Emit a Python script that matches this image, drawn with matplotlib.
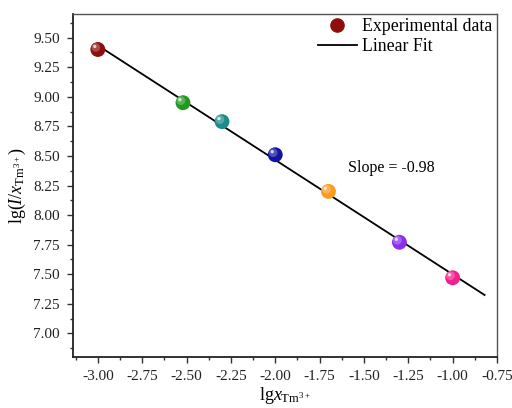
import numpy as np
import matplotlib
matplotlib.use("Agg")
import matplotlib.pyplot as plt
from matplotlib.transforms import ScaledTranslation
from matplotlib.lines import Line2D
from matplotlib.ticker import AutoMinorLocator

plt.rcParams['font.family'] = ['Liberation Serif', 'DejaVu Serif']
plt.rcParams['mathtext.fontset'] = 'custom'
plt.rcParams['mathtext.rm'] = 'Liberation Serif'
plt.rcParams['mathtext.it'] = 'Liberation Serif:italic'

lgx = [-3.00, -2.52, -2.30, -2.00, -1.70, -1.30, -1.00]
lgI = [9.40, 8.95, 8.79, 8.51, 8.20, 7.77, 7.47]
colors = ['#8e0e0e', '#1f9a1f', '#1f8c8c', '#1414a0', '#ff9a1e', '#8a2ff0', '#f2208c']
fit_range = [-3.00, -0.82]
xticks = [-3.00, -2.75, -2.50, -2.25, -2.00, -1.75, -1.50, -1.25, -1.00, -0.75]
yticks = [7.00, 7.25, 7.50, 7.75, 8.00, 8.25, 8.50, 8.75, 9.00, 9.25, 9.50]

fig = plt.figure(figsize=(5.12, 4.08), dpi=100)
ax = fig.add_axes([73/512, 1-357/408, (497-73)/512, (357-14)/408])

slope, intercept = np.polyfit(lgx, lgI, 1)
xf = np.array(fit_range)
ax.plot(xf, slope*xf + intercept, color='black', lw=1.3, zorder=2)

def lighten(c, f):
    rgb = np.array(matplotlib.colors.to_rgb(c))
    return tuple(rgb + (1-rgb)*f)

ax.scatter(lgx, lgI, s=115, c=colors, zorder=3, linewidths=0)
off = ScaledTranslation(-1.5/72, 1.5/72, fig.dpi_scale_trans)
ax.scatter(lgx, lgI, s=40, c=[lighten(c, 0.25) for c in colors], zorder=4,
           linewidths=0, transform=ax.transData + off)
off2 = ScaledTranslation(-2.2/72, 2.2/72, fig.dpi_scale_trans)
ax.scatter(lgx, lgI, s=6, c=[lighten(c, 0.8) for c in colors], zorder=5,
           linewidths=0, transform=ax.transData + off2)

ax.set_xlim(-3.14, -0.75)
ax.set_ylim(6.80, 9.70)
ax.set_xticks(xticks)
ax.set_yticks(yticks)
ax.set_xticklabels([f"{v:.2f}" for v in xticks])
ax.set_yticklabels([f"{v:.2f}" for v in yticks])
ax.xaxis.set_minor_locator(AutoMinorLocator(2))
ax.yaxis.set_minor_locator(AutoMinorLocator(2))
ax.tick_params(which='major', direction='out', length=4.5, width=1, labelsize=11,
               colors='#333333', labelcolor='#222222', pad=5)
ax.tick_params(which='minor', direction='out', length=2.5, width=1, colors='#333333')
for s in ['left', 'bottom']:
    ax.spines[s].set_linewidth(1.3)
    ax.spines[s].set_color('#222222')
for s in ['top', 'right']:
    ax.spines[s].set_linewidth(1.0)
    ax.spines[s].set_color('#555555')

ax.set_ylabel(r'lg($\mathit{I}$/$\mathit{x}_{\mathrm{Tm}^{3+}}$)', fontsize=13, labelpad=4)
ax.set_xlabel(r'lg$\mathit{x}_{\mathrm{Tm}^{3+}}$', fontsize=13, labelpad=1.5)

ax.text(-1.59, 8.40, 'Slope = -0.98', fontsize=11.5, va='center', ha='left')

handles = [Line2D([], [], marker='o', ls='none', color=colors[0], markersize=9.5),
           Line2D([], [], color='black', lw=1.3)]
ax.legend(handles, ['Experimental data', 'Linear Fit'], loc='upper right',
          frameon=False, fontsize=12.8, borderaxespad=0.05, handlelength=2.2,
          handletextpad=0.3, labelspacing=0.15, borderpad=0.2)

fig.savefig('out.png', dpi=100)
